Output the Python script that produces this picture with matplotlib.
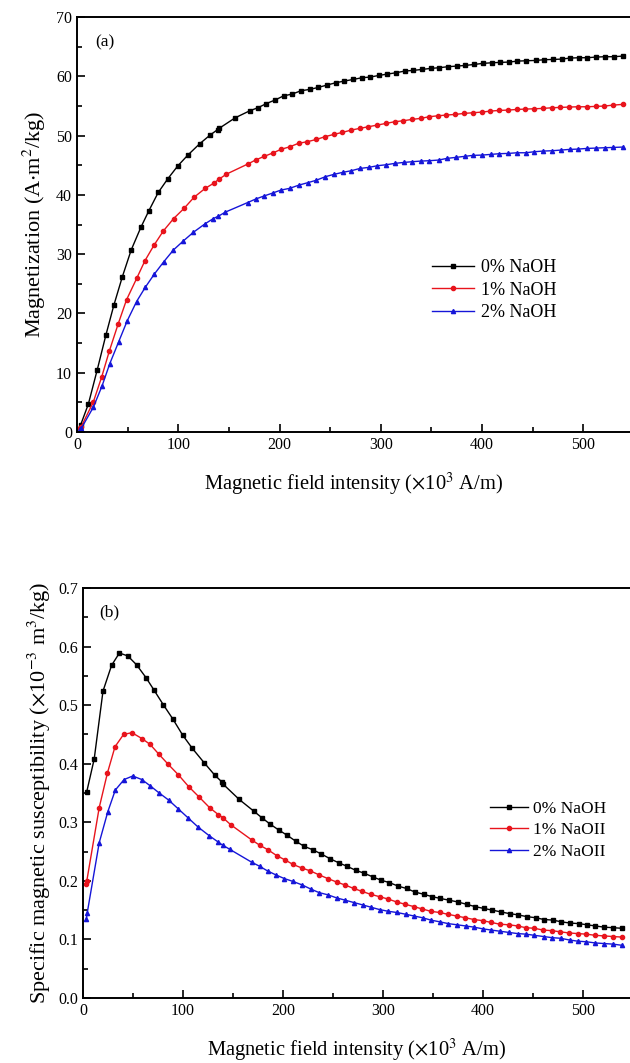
import matplotlib
matplotlib.use("Agg")
import matplotlib.pyplot as plt
from matplotlib.ticker import MultipleLocator

plt.rcParams['font.family'] = ['Liberation Serif', 'DejaVu Serif']
plt.rcParams['mathtext.fontset'] = 'stix'

# field intensity (x10^3 A/m) for each sample
h_0 = [3.6, 11.2, 20.0, 28.6, 36.4, 44.8, 53.5, 63.0, 70.9, 80.2,
       89.6, 99.6, 109.4, 121.0, 131.5, 138.8, 140.2, 156.2, 170.8, 178.7,
       187.0, 195.6, 204.0, 212.5, 221.1, 229.9, 238.2, 246.8, 255.5, 263.8,
       272.8, 281.2, 289.5, 298.3, 306.4, 315.2, 323.5, 331.8, 340.9, 349.2,
       357.3, 366.0, 374.8, 383.5, 392.2, 400.5, 409.4, 417.8, 426.7, 434.8,
       443.6, 452.7, 461.0, 469.9, 478.4, 486.7, 495.8, 504.0, 512.3, 520.9,
       529.9, 539.2]
h_1 = [3.4, 3.8, 16.2, 24.4, 32.0, 40.6, 48.9, 58.9, 67.1, 76.0,
       85.2, 95.4, 105.6, 115.6, 126.6, 135.4, 139.8, 147.6, 168.6, 176.6,
       185.0, 193.8, 201.8, 210.0, 218.8,
       227.3, 236.4, 244.7, 253.6, 261.9, 270.8, 279.1, 287.7, 296.5, 305.0,
       313.6, 322.2, 330.9, 339.3, 347.8, 356.5, 364.7, 373.5, 382.3, 390.9,
       399.8, 408.2, 416.9, 425.7, 434.8, 442.8, 451.4, 460.0, 468.8, 477.2,
       486.2, 494.6, 503.4, 512.2, 520.8, 529.7, 538.8]
h_2 = [3.4, 4.2, 16.2, 24.8, 32.3, 41.1, 49.7, 58.8, 67.4, 76.2,
       85.6, 95.2, 104.8, 115.0, 126.3, 134.6, 139.6, 146.6, 168.5, 176.5,
       184.5, 193.1, 201.2, 210.0,
       219.2, 227.8, 236.0, 245.2, 253.5, 262.2, 270.8, 279.5, 288.0, 296.5,
       305.3, 313.9, 322.7, 330.9, 339.6, 347.8, 357.0, 365.2, 374.0, 382.6,
       390.9, 400.0, 408.3, 416.9, 425.7, 434.5, 443.1, 451.3, 460.5, 469.1,
       477.5, 486.5, 494.8, 503.4, 512.2, 520.9, 529.7, 538.8]

# magnetization (A m2/kg)
m_0 = [1.2, 4.7, 10.5, 16.4, 21.4, 26.2, 30.7, 34.5, 37.3, 40.4,
       42.7, 44.9, 46.7, 48.6, 50.1, 51.0, 51.2, 53.0, 54.2, 54.7,
       55.4, 56.0, 56.7, 57.0, 57.56, 57.79, 58.12, 58.52, 58.91, 59.19,
       59.47, 59.75, 59.87, 60.15, 60.37, 60.6, 60.88, 60.99, 61.16, 61.33,
       61.44, 61.61, 61.72, 61.83, 62.0, 62.17, 62.28, 62.34, 62.4, 62.56,
       62.62, 62.67, 62.79, 62.84, 62.9, 63.07, 63.13, 63.13, 63.24, 63.3,
       63.3, 63.41]
m_1 = [0.68, 0.76, 5.1, 9.3, 13.7, 18.2, 22.3, 25.9, 28.9, 31.5,
       33.9, 36.0, 37.7, 39.6, 41.1, 42.0, 42.6, 43.5, 45.2, 45.9,
       46.5, 47.1, 47.7, 48.1, 48.7,
       48.96, 49.35, 49.8, 50.2, 50.53, 50.93, 51.21, 51.49, 51.77, 52.05,
       52.33, 52.5, 52.73, 52.9, 53.18, 53.34, 53.46, 53.57, 53.74, 53.85,
       53.96, 54.13, 54.24, 54.3, 54.41, 54.47, 54.52, 54.58, 54.69, 54.75,
       54.81, 54.86, 54.86, 54.92, 54.98, 55.14, 55.26]
m_2 = [0.46, 0.6, 4.2, 7.8, 11.5, 15.2, 18.8, 22.0, 24.4, 26.6,
       28.7, 30.7, 32.2, 33.7, 35.1, 36.0, 36.4, 37.1, 38.7, 39.3,
       39.8, 40.3, 40.8, 41.1,
       41.65, 42.05, 42.45, 43.06, 43.45, 43.79, 44.07, 44.46, 44.63, 44.91,
       45.08, 45.31, 45.47, 45.59, 45.7, 45.76, 45.87, 46.15, 46.32, 46.49,
       46.66, 46.71, 46.82, 46.94, 46.99, 47.1, 47.1, 47.27, 47.39, 47.44,
       47.55, 47.67, 47.72, 47.83, 47.89, 47.95, 48.0, 48.06]

# specific susceptibility (x10^-3 m3/kg)
chi_0 = [0.351, 0.408, 0.524, 0.568, 0.589, 0.584, 0.569, 0.547, 0.526, 0.501,
         0.477, 0.449, 0.426, 0.402, 0.381, 0.369, 0.365, 0.339, 0.319, 0.308,
         0.297, 0.287, 0.278, 0.268, 0.259, 0.253, 0.246, 0.238, 0.231, 0.225,
         0.218, 0.213, 0.207, 0.201, 0.197, 0.191, 0.187, 0.181, 0.177, 0.173,
         0.170, 0.167, 0.164, 0.160, 0.156, 0.153, 0.150, 0.147, 0.144, 0.142,
         0.139, 0.137, 0.134, 0.133, 0.130, 0.128, 0.127, 0.125, 0.123, 0.121,
         0.120, 0.119]
chi_1 = [0.195, 0.200, 0.325, 0.384, 0.429, 0.450, 0.453, 0.443, 0.433, 0.416,
         0.399, 0.381, 0.361, 0.344, 0.325, 0.313, 0.308, 0.296, 0.270, 0.261,
         0.253, 0.243, 0.236, 0.228, 0.222,
         0.217, 0.210, 0.204, 0.198, 0.193, 0.187, 0.182, 0.177, 0.173, 0.169,
         0.164, 0.160, 0.156, 0.152, 0.148, 0.146, 0.143, 0.140, 0.137, 0.134,
         0.132, 0.129, 0.126, 0.125, 0.123, 0.120, 0.119, 0.116, 0.115, 0.113,
         0.111, 0.110, 0.109, 0.107, 0.106, 0.105, 0.104]
chi_2 = [0.135, 0.145, 0.265, 0.318, 0.355, 0.373, 0.379, 0.373, 0.362, 0.350,
         0.338, 0.323, 0.308, 0.292, 0.277, 0.267, 0.261, 0.254, 0.232, 0.225,
         0.217, 0.210, 0.204, 0.199,
         0.193, 0.186, 0.180, 0.176, 0.171, 0.167, 0.163, 0.159, 0.155, 0.151,
         0.148, 0.146, 0.143, 0.140, 0.137, 0.133, 0.130, 0.127, 0.125, 0.123,
         0.121, 0.118, 0.116, 0.114, 0.112, 0.110, 0.109, 0.107, 0.105, 0.103,
         0.102, 0.099, 0.097, 0.096, 0.094, 0.093, 0.092, 0.090]

labels_a = ['0% NaOH', '1% NaOH', '2% NaOH']
labels_b = ['0% NaOH', '1% NaOII', '2% NaOII']
colors = ['black', '#e8141c', '#1515d8']
markers = ['s', 'o', '^']

W, H = 630, 1063
fig = plt.figure(figsize=(W / 100, H / 100), dpi=100)

def px_axes(left, top, bottom):
    return fig.add_axes([left / W, 1 - bottom / H, 1 - left / W, (bottom - top) / H])

def style(ax):
    ax.spines['right'].set_visible(False)
    for s in ['top', 'left', 'bottom']:
        ax.spines[s].set_linewidth(1.4)
    ax.tick_params(which='both', direction='in', top=False, right=False,
                   labelsize=11.5, width=1.2)
    ax.tick_params(which='major', length=6)
    ax.tick_params(which='minor', length=3.5)
    ax.xaxis.set_major_locator(MultipleLocator(100))
    ax.xaxis.set_minor_locator(MultipleLocator(50))

ax1 = px_axes(77, 17, 432)
for h, m, c, mk, lb in zip([h_0, h_1, h_2], [m_0, m_1, m_2], colors, markers, labels_a):
    ax1.plot(h, m, color=c, marker=mk, markersize=3, linewidth=1.0, label=lb)
ax1.set_xlim(0, 546)
ax1.set_ylim(0, 70)
ax1.yaxis.set_major_locator(MultipleLocator(10))
ax1.yaxis.set_minor_locator(MultipleLocator(5))
style(ax1)
ax1.set_xlabel(r'Magnetic field intensity ($\times$10$^{3}$ A/m)', fontsize=14.8, labelpad=13)
ax1.set_ylabel(r'Magnetization (A$\cdot$m$^{2}$/kg)', fontsize=16, labelpad=6)
ax1.text(0.033, 0.94, '(a)', transform=ax1.transAxes, fontsize=12.5, va='center')
ax1.legend(loc='upper left', bbox_to_anchor=(416 / W, 1 - 243 / H),
           bbox_transform=fig.transFigure, frameon=False, fontsize=13,
           handlelength=2.3, handletextpad=0.4, labelspacing=0.3)

ax2 = px_axes(83, 588, 998)
for h, ch, c, mk, lb in zip([h_0, h_1, h_2], [chi_0, chi_1, chi_2], colors, markers, labels_b):
    ax2.plot(h, ch, color=c, marker=mk, markersize=3, linewidth=1.0, label=lb)
ax2.set_xlim(0, 547)
ax2.set_ylim(0, 0.7)
ax2.yaxis.set_major_locator(MultipleLocator(0.1))
ax2.yaxis.set_minor_locator(MultipleLocator(0.05))
ax2.yaxis.set_major_formatter(plt.FormatStrFormatter('%.1f'))
style(ax2)
ax2.set_xlabel(r'Magnetic field intensity ($\times$10$^{3}$ A/m)', fontsize=14.8, labelpad=13)
ax2.set_ylabel(r'Specific magnetic susceptibility ($\times$10$^{-3}$ m$^{3}$/kg)', fontsize=16, labelpad=4)
ax2.text(0.03, 0.94, '(b)', transform=ax2.transAxes, fontsize=12.5, va='center')
ax2.legend(loc='upper left', bbox_to_anchor=(474 / W, 1 - 785 / H),
           bbox_transform=fig.transFigure, frameon=False, fontsize=12.5,
           handlelength=2.2, handletextpad=0.3, labelspacing=0.32)

fig.savefig('out.png', dpi=100)
